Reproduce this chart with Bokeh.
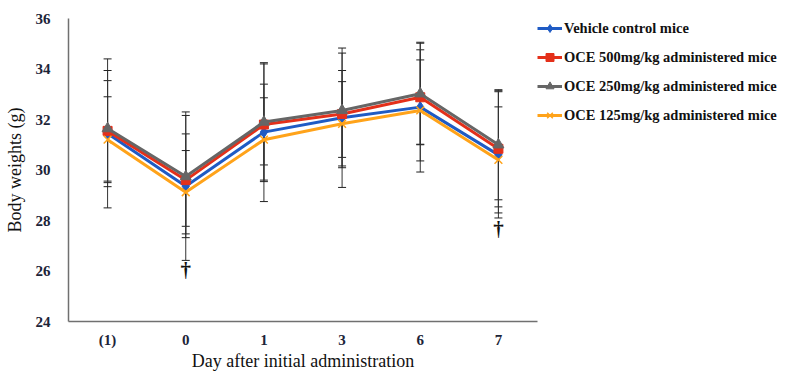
from bokeh.plotting import figure
from bokeh.models import ColumnDataSource, Whisker, TeeHead, Legend, LegendItem, FixedTicker
from bokeh.core.properties import value
from bokeh.embed import file_html
from bokeh.resources import INLINE

days = ["(1)", "0", "1", "3", "6", "7"]
vehicle = [31.45, 29.36, 31.5, 32.07, 32.49, 30.6]
vehicle_err = [2.95, 2.94, 2.75, 2.76, 2.57, 2.5]
oce500 = [31.55, 29.6, 31.8, 32.22, 32.88, 30.84]
oce500_err = [1.99, 1.83, 1.6, 1.72, 1.88, 2.3]
oce250 = [31.64, 29.74, 31.9, 32.36, 33.02, 31.0]
oce250_err = [2.3, 2.42, 2.3, 2.27, 2.0, 2.18]
oce125 = [31.2, 29.12, 31.2, 31.83, 32.36, 30.4]
oce125_err = [1.7, 1.65, 1.66, 1.67, 2.0, 2.1]
series_names = ["Vehicle control mice", "OCE 500mg/kg administered mice",
                "OCE 250mg/kg administered mice", "OCE 125mg/kg administered mice"]
dagger_days = ["0", "7"]
dagger_y = [26.02, 27.68]
y_ticks = [24, 26, 28, 30, 32, 34, 36]

SERIF = "Liberation Serif"

p = figure(x_range=days, y_range=(24, 36), frame_width=469, frame_height=303,
           output_backend="svg", toolbar_location=None,
           min_border_left=68, min_border_right=0, min_border_top=18, min_border_bottom=48)
p.outline_line_color = None
p.xgrid.visible = False
p.ygrid.visible = False
p.background_fill_color = "white"
p.border_fill_color = "white"

for ax in (p.xaxis[0], p.yaxis[0]):
    ax.axis_line_color = "#707070"
    ax.axis_line_width = 1.5
    ax.major_tick_line_color = None
    ax.minor_tick_line_color = None
    ax.major_label_text_font = SERIF
    ax.major_label_text_font_style = "bold"
    ax.major_label_text_font_size = "15px"
    ax.major_label_text_color = "#1c2438"
    ax.axis_label_text_font = SERIF
    ax.axis_label_text_font_style = "normal"
    ax.axis_label_text_font_size = "18px"
    ax.axis_label_text_color = "#111111"

p.yaxis.ticker = FixedTicker(ticks=y_ticks)
p.yaxis.major_label_standoff = 12
p.xaxis.major_label_standoff = 4
p.yaxis.axis_label = "Body weights (g)"
p.xaxis.axis_label = "Day after initial administration"
p.yaxis.axis_label_standoff = 8
p.xaxis.axis_label_standoff = 0

data = [
    (vehicle, vehicle_err, "#1f5bc4", "diamond", 11),
    (oce500, oce500_err, "#e4301a", "square", 9),
    (oce250, oce250_err, "#666666", "triangle", 11),
    (oce125, oce125_err, "#ffa31a", "x", 11),
]

for vals, errs, col, mk, sz in data:
    src = ColumnDataSource(dict(x=days, y=vals,
                                lo=[v - e for v, e in zip(vals, errs)],
                                hi=[v + e for v, e in zip(vals, errs)]))
    w = Whisker(source=src, base="x", lower="lo", upper="hi", level="underlay",
                line_color="#333333", line_width=1,
                upper_head=TeeHead(size=8, line_color="#222222", line_width=1),
                lower_head=TeeHead(size=8, line_color="#222222", line_width=1))
    p.add_layout(w)

items = []
for (vals, errs, col, mk, sz), name in zip(data, series_names):
    src = ColumnDataSource(dict(x=days, y=vals))
    r1 = p.line("x", "y", source=src, line_color=col, line_width=3)
    if mk == "x":
        r2 = p.scatter("x", "y", source=src, marker=mk, size=sz, line_color=col, line_width=1.5)
    else:
        r2 = p.scatter("x", "y", source=src, marker=mk, size=sz, fill_color=col, line_color=col)
    items.append(LegendItem(label=name, renderers=[r1, r2]))

dsrc = ColumnDataSource(dict(x=dagger_days, y=dagger_y, t=["\u2020"] * len(dagger_days)))
p.text("x", "y", text="t", source=dsrc, text_font=value(SERIF), text_font_style="bold",
       text_font_size="21px", text_align="center", text_baseline="middle", text_color="#111111")

legend = Legend(items=items, location="top_left", orientation="vertical",
                label_text_font=SERIF, label_text_font_style="bold",
                label_text_font_size="14.5px", label_text_color="#111111",
                glyph_width=25, glyph_height=20, spacing=9, padding=0, margin=0,
                label_standoff=2, border_line_color=None, background_fill_alpha=0)
p.add_layout(legend, "right")

open("out.html", "w").write(file_html(p, INLINE))
